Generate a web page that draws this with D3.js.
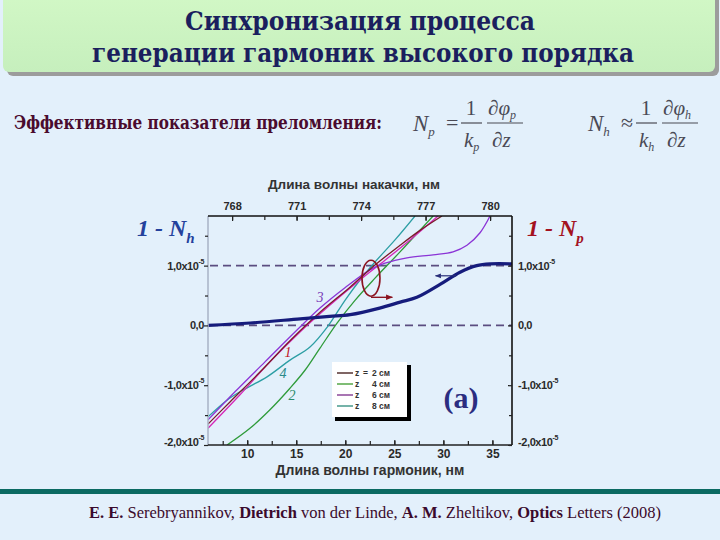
<!DOCTYPE html>
<html><head><meta charset="utf-8">
<script src="https://cdn.jsdelivr.net/npm/d3@7"></script>
<style>body{margin:0;background:#e3f0fb;} svg{display:block}</style>
</head><body><svg id="c" width="720" height="540"></svg>
<script>
// ---------- data ----------
const harmonicTicks = [10, 15, 20, 25, 30, 35];
const pumpTicks = [768, 771, 774, 777, 780];
const yTicks = [-2, -1, 0, 1];
const yTickLabels = ["-2,0x10", "-1,0x10", "0,0", "1,0x10"];
const yTickSup = ["-5", "-5", "", "-5"];
const legendNumbers = ["2", "4", "6", "8"];
const curveNumbers = ["1", "2", "3", "4"];
// 1 - N_h (left axis), x = harmonic wavelength (nm), y in 1e-5
const navyCurve = [[6,0],[10.3,0.04],[15.4,0.11],[18.4,0.15],[20.5,0.18],[23.5,0.29],[25.6,0.39],[27.3,0.47],[29.7,0.69],[31.7,0.89],[33.4,1.0],[34.8,1.03],[37,1.03]];
// 1 - N_p curves (right axis)
const curveZ2 = [[6,-1.65],[8.24,-1.28],[11.3,-0.78],[14.46,-0.24],[17.42,0.22],[20.48,0.64],[23.03,1.01],[25.58,1.34],[27.62,1.59],[29.86,1.83]];
const curveZ4 = [[7.94,-2.0],[10.28,-1.72],[12.32,-1.41],[14.36,-1.05],[15.89,-0.75],[17.42,-0.38],[19.16,0.04],[20.99,0.42],[23.03,0.79],[25.58,1.23],[28.95,1.83]];
const curveZ6 = [[6,-1.58],[8.75,-1.11],[11.81,-0.61],[14.87,-0.11],[17.42,0.29],[19.97,0.63],[22.52,0.93],[24.05,1.04],[26.29,1.13],[28.95,1.18],[30.99,1.23],[32.41,1.34],[33.74,1.55],[34.76,1.83]];
const curveZ8 = [[6,-1.53],[7.94,-1.25],[9.57,-1.08],[12.02,-0.86],[14.36,-0.58],[16.4,-0.36],[18.24,-0.01],[19.97,0.42],[21.5,0.76],[23.03,1.06],[25.07,1.43],[27.11,1.83]];
const curveExtra = [[6,-1.72],[9.26,-1.16],[12.32,-0.61],[15.38,-0.11],[18.44,0.34],[21.5,0.76],[24.05,1.09],[26.6,1.43],[29.46,1.83]];
const dashedLevels = [0, 1];

// ---------- layout ----------
const svg = d3.select("#c");
const L = 208, R = 512, T = 216, B = 445;
const x = d3.scaleLinear().domain([6, 37]).range([L, R]);
const xp = d3.scaleLinear().domain([766.88, 781.02]).range([L, R]);
const y = d3.scaleLinear().domain([-2, 1.83]).range([B, T]);
const serifCyr = "'DejaVu Serif', 'Noto Serif', 'FreeSerif', 'Tinos', 'PT Serif', 'Liberation Serif', serif";
const serif = "'Liberation Serif', 'DejaVu Serif', serif";

// title box
svg.append("rect").attr("x", 7).attr("y", -6).attr("width", 712).attr("height", 82).attr("rx", 6).attr("fill", "#9c9c9c");
const defs = svg.append("defs");
const grad = defs.append("linearGradient").attr("id", "g").attr("x1", 0).attr("y1", 0).attr("x2", 0).attr("y2", 1);
grad.append("stop").attr("offset", 0).attr("stop-color", "#d2f8c6");
grad.append("stop").attr("offset", 1).attr("stop-color", "#c6efbd");
svg.append("rect").attr("x", 3).attr("y", -8).attr("width", 712).attr("height", 80).attr("rx", 6).attr("fill", "url(#g)");
svg.append("text").attr("x", 185).attr("y", 30).attr("textLength", 350).attr("lengthAdjust", "spacingAndGlyphs")
  .attr("font-family", serifCyr).attr("font-size", 26).attr("font-weight", "bold")
  .attr("fill", "#1b1f5e").text("Синхронизация процесса");
svg.append("text").attr("x", 92).attr("y", 62).attr("textLength", 542).attr("lengthAdjust", "spacingAndGlyphs")
  .attr("font-family", serifCyr).attr("font-size", 26).attr("font-weight", "bold")
  .attr("fill", "#1b1f5e").text("генерации гармоник высокого порядка");

// subtitle
svg.append("text").attr("x", 14).attr("y", 129).attr("textLength", 368).attr("lengthAdjust", "spacingAndGlyphs")
  .attr("font-family", serifCyr).attr("font-size", 19).attr("font-weight", "bold")
  .attr("fill", "#4a0b2e").text("Эффективные показатели преломления:");

// formulas
function formula(x0, sub, rel) {
  const g = svg.append("g").attr("font-family", serif).attr("fill", "#4a4a55");
  const N = g.append("text").attr("x", x0).attr("y", 131).attr("font-size", 23).attr("font-style", "italic");
  N.append("tspan").text("N");
  N.append("tspan").attr("font-size", 13).attr("dy", 5).text(sub);
  g.append("text").attr("x", x0 + 33).attr("y", 130).attr("font-size", 22).text(rel);
  g.append("text").attr("x", x0 + 58).attr("y", 115).attr("font-size", 21).attr("text-anchor", "middle").text("1");
  g.append("line").attr("x1", x0 + 48).attr("x2", x0 + 69).attr("y1", 123).attr("y2", 123).attr("stroke", "#4a4a55").attr("stroke-width", 1.2);
  const k = g.append("text").attr("x", x0 + 51).attr("y", 147).attr("font-size", 21).attr("font-style", "italic");
  k.append("tspan").text("k");
  k.append("tspan").attr("font-size", 12).attr("dy", 4).text(sub);
  const d = g.append("text").attr("x", x0 + 75).attr("y", 115).attr("font-size", 21).attr("font-style", "italic");
  d.append("tspan").text("∂φ");
  d.append("tspan").attr("font-size", 12).attr("dy", 4).text(sub);
  g.append("line").attr("x1", x0 + 74).attr("x2", x0 + 110).attr("y1", 123).attr("y2", 123).attr("stroke", "#4a4a55").attr("stroke-width", 1.2);
  g.append("text").attr("x", x0 + 79).attr("y", 147).attr("font-size", 21).attr("font-style", "italic").text("∂z");
}
formula(413, "p", "=");
formula(588, "h", "≈");

// clip
defs.append("clipPath").attr("id", "clip").append("rect").attr("x", L).attr("y", T).attr("width", R - L).attr("height", B - T);

// dashed levels
svg.selectAll("line.dash").data(dashedLevels).enter().append("line")
  .attr("x1", L + 2).attr("x2", R).attr("y1", d => y(d)).attr("y2", d => y(d))
  .attr("stroke", "#5b4d80").attr("stroke-width", 1.6).attr("stroke-dasharray", "8,5");

// curves
const line = d3.line().x(d => x(d[0])).y(d => y(d[1])).curve(d3.curveCatmullRom.alpha(0.5));
const thin = [
  {d: curveZ8, c: "#2c9ea4"},
  {d: curveZ4, c: "#2f9b3a"},
  {d: curveExtra, c: "#d526b8"},
  {d: curveZ6, c: "#8b34d6"},
  {d: curveZ2, c: "#7c1a2a"}
];
const cg = svg.append("g").attr("clip-path", "url(#clip)");
thin.forEach(s => cg.append("path").attr("d", line(s.d)).attr("fill", "none").attr("stroke", s.c).attr("stroke-width", 1.3));
cg.append("path").attr("d", line(navyCurve)).attr("fill", "none").attr("stroke", "#161c7c").attr("stroke-width", 3.2);

// frame
svg.append("line").attr("x1", L).attr("x2", L).attr("y1", T).attr("y2", B).attr("stroke", "#a9b3c6").attr("stroke-width", 1.5);
svg.append("line").attr("x1", L).attr("x2", R).attr("y1", T).attr("y2", T).attr("stroke", "#111").attr("stroke-width", 1.6);
svg.append("line").attr("x1", R).attr("x2", R).attr("y1", T).attr("y2", B).attr("stroke", "#111").attr("stroke-width", 1.6);
svg.append("line").attr("x1", L).attr("x2", R).attr("y1", B).attr("y2", B).attr("stroke", "#222").attr("stroke-width", 1.5);

// axes via d3
const fontAx = "'Liberation Sans', Arial, sans-serif";
const axB = svg.append("g").attr("transform", `translate(0,${B})`)
  .call(d3.axisBottom(x).tickValues(d3.range(7.5, 37, 2.5)).tickSize(-4).tickFormat(""));
const axB2 = svg.append("g").attr("transform", `translate(0,${B})`)
  .call(d3.axisBottom(x).tickValues(harmonicTicks).tickSize(-5).tickPadding(4));
const axT = svg.append("g").attr("transform", `translate(0,${T})`)
  .call(d3.axisTop(xp).tickValues(d3.range(768, 781, 1.5)).tickSize(-4).tickFormat(""));
const axT2 = svg.append("g").attr("transform", `translate(0,${T})`)
  .call(d3.axisTop(xp).tickValues(pumpTicks).tickSize(-5).tickPadding(6));
const axL = svg.append("g").attr("transform", `translate(${L},0)`)
  .call(d3.axisLeft(y).tickValues([-1.5, -0.5, 0.5, 1.5]).tickSize(3).tickFormat(""));
const axL2 = svg.append("g").attr("transform", `translate(${L},0)`)
  .call(d3.axisLeft(y).tickValues(yTicks).tickSize(4).tickPadding(4).tickFormat(""));
const axR = svg.append("g").attr("transform", `translate(${R},0)`)
  .call(d3.axisRight(y).tickValues([-1.5, -0.5, 0.5, 1.5]).tickSize(-3).tickFormat(""));
const axR2 = svg.append("g").attr("transform", `translate(${R},0)`)
  .call(d3.axisRight(y).tickValues(yTicks).tickSize(-4).tickFormat(""));
[axB, axB2, axT, axT2, axL, axL2, axR, axR2].forEach(a => {
  a.select(".domain").remove();
  a.selectAll(".tick line").attr("stroke", "#222").attr("stroke-width", 1.2);
  a.selectAll("text").attr("font-family", fontAx).attr("font-weight", "bold").attr("font-size", 12).attr("fill", "#2a2a2a");
});
axT2.selectAll("text").attr("font-size", 11);

// y labels with superscripts
function yLabels(xPos, anchor) {
  yTicks.forEach((v, i) => {
    const t = svg.append("text").attr("x", xPos).attr("y", y(v) + 4 - (v === -2 ? 3 : 0))
      .attr("text-anchor", anchor).attr("font-family", fontAx).attr("font-weight", "bold")
      .attr("font-size", 11).attr("fill", "#2a2a2a").attr("letter-spacing", -0.4);
    t.append("tspan").text(yTickLabels[i]);
    if (yTickSup[i]) t.append("tspan").attr("font-size", 7).attr("dy", -6).text(yTickSup[i]);
  });
}
yLabels(L - 4, "end");
yLabels(R + 6, "start");

// axis titles
svg.append("text").attr("x", 354).attr("y", 189).attr("text-anchor", "middle")
  .attr("font-family", fontAx).attr("font-weight", "bold").attr("font-size", 13.5).attr("fill", "#333")
  .text("Длина волны накачки, нм");
svg.append("text").attr("x", 370).attr("y", 475).attr("text-anchor", "middle")
  .attr("font-family", fontAx).attr("font-weight", "bold").attr("font-size", 14).attr("fill", "#333")
  .text("Длина волны гармоник, нм");

// 1 - N labels
function nLabel(x0, sub, col) {
  const t = svg.append("text").attr("x", x0).attr("y", 236).attr("font-family", serif)
    .attr("font-style", "italic").attr("font-weight", "bold").attr("font-size", 24).attr("fill", col);
  t.append("tspan").text("1 - N");
  t.append("tspan").attr("font-size", 15).attr("dy", 7).text(sub);
}
nLabel(137, "h", "#24419c");
nLabel(527, "p", "#a3121f");

// annotations: ellipse and arrows
const ell = {cx: 22.62, cy: 0.79, rx: 9, ry: 18};
svg.append("ellipse").attr("cx", x(ell.cx)).attr("cy", y(ell.cy)).attr("rx", ell.rx).attr("ry", ell.ry)
  .attr("fill", "none").attr("stroke", "#8b1420").attr("stroke-width", 1.6);
defs.append("marker").attr("id", "ah").attr("viewBox", "0 0 10 10").attr("refX", 9).attr("refY", 5)
  .attr("markerWidth", 5).attr("markerHeight", 5).attr("orient", "auto-start-reverse")
  .append("path").attr("d", "M0,1 L10,5 L0,9 z").attr("fill", "#8b1420");
defs.append("marker").attr("id", "ah2").attr("viewBox", "0 0 10 10").attr("refX", 9).attr("refY", 5)
  .attr("markerWidth", 5).attr("markerHeight", 5).attr("orient", "auto-start-reverse")
  .append("path").attr("d", "M0,1 L10,5 L0,9 z").attr("fill", "#2a2f7a");
svg.append("line").attr("x1", x(ell.cx)).attr("y1", y(0.47)).attr("x2", x(24.8)).attr("y2", y(0.47))
  .attr("stroke", "#8b1420").attr("stroke-width", 1.4).attr("marker-end", "url(#ah)");
svg.append("line").attr("x1", x(31.3)).attr("y1", y(0.83)).attr("x2", x(29.2)).attr("y2", y(0.83))
  .attr("stroke", "#2a2f7a").attr("stroke-width", 1.2).attr("marker-end", "url(#ah2)");

// curve number labels
const numPos = [[14.16, -0.53, "#c0141e"], [14.57, -1.25, "#2a8a6a"], [17.42, 0.39, "#7a3ab8"], [13.65, -0.88, "#2a8a8a"]];
curveNumbers.forEach((n, i) => {
  svg.append("text").attr("x", x(numPos[i][0])).attr("y", y(numPos[i][1])).attr("text-anchor", "middle")
    .attr("font-family", serif).attr("font-style", "italic").attr("font-size", 14)
    .attr("fill", numPos[i][2]).text(n);
});

// legend
const lg = svg.append("g").attr("transform", "translate(332,362)");
lg.append("rect").attr("x", 3).attr("y", 3).attr("width", 76).attr("height", 56).attr("fill", "#000");
lg.append("rect").attr("x", 0).attr("y", 0).attr("width", 75).attr("height", 55).attr("fill", "#fff");
const legCols = ["#3a1210", "#3a9a2a", "#7a2a8a", "#2a8a7a"];
legendNumbers.forEach((n, i) => {
  const yy = 11 + i * 11;
  lg.append("line").attr("x1", 5).attr("x2", 21).attr("y1", yy).attr("y2", yy).attr("stroke", legCols[i]).attr("stroke-width", 1.3);
  const t = lg.append("text").attr("y", yy + 3).attr("font-family", fontAx).attr("font-weight", "bold")
    .attr("font-size", 8.5).attr("fill", "#333");
  t.append("tspan").attr("x", 23).text("z");
  if (i === 0) t.append("tspan").attr("x", 31).text("=");
  t.append("tspan").attr("x", 40).text(n + " см");
});

// (a)
svg.append("text").attr("x", 461).attr("y", 408).attr("text-anchor", "middle")
  .attr("font-family", serif).attr("font-weight", "bold").attr("font-size", 30)
  .attr("fill", "#2b2d80").text("(a)");

// footer
svg.append("rect").attr("x", 0).attr("y", 489).attr("width", 720).attr("height", 5).attr("fill", "#0b6a62");
const ft = svg.append("text").attr("x", 375).attr("y", 518).attr("text-anchor", "middle")
  .attr("font-family", serif).attr("font-size", 16.5).attr("fill", "#3b0a2c");
ft.append("tspan").attr("font-weight", "bold").text("E. E. ");
ft.append("tspan").text("Serebryannikov, ");
ft.append("tspan").attr("font-weight", "bold").text("Dietrich ");
ft.append("tspan").text("von der Linde,  ");
ft.append("tspan").attr("font-weight", "bold").text("A. M. ");
ft.append("tspan").text("Zheltikov,  ");
ft.append("tspan").attr("font-weight", "bold").text("Optics ");
ft.append("tspan").text("Letters (2008)");
</script></body></html>
